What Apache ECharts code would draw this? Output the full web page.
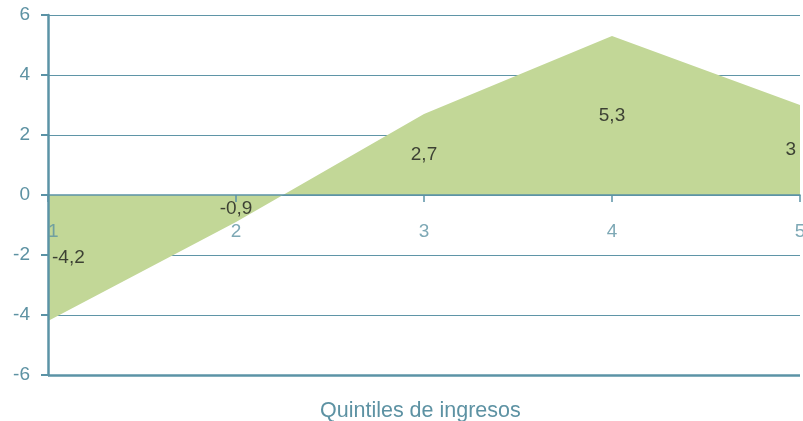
<!DOCTYPE html>
<html>
<head>
<meta charset="utf-8">
<script src="https://cdn.jsdelivr.net/npm/echarts@6/dist/echarts.min.js"></script>
<style>
  html, body { margin: 0; padding: 0; background: #fff; }
  #chart { width: 803px; height: 421px; }
</style>
</head>
<body>
<div id="chart"></div>
<script>
// data
var quintiles = ['1', '2', '3', '4', '5'];
var values = [-4.2, -0.9, 2.7, 5.3, 3];
var yMin = -6, yMax = 6, yStep = 2;
var xName = 'Quintiles de ingresos';

var axisColor = '#5b93a6';
var textColor = '#5d92a3';
var font = '"Liberation Sans", Arial, sans-serif';

// value labels sit half way between zero and the value (centre of the filled area)
var labelData = values.map(function (v, i) {
  var item = { value: [i, v / 2], raw: v };
  if (i === 0) item.label = { align: 'left', offset: [4, 0] };
  if (i === values.length - 1) item.label = { align: 'right', offset: [-4, 0] };
  return item;
});

// category labels hang under the zero line
var catData = quintiles.map(function (c, i) {
  var item = { value: [i, 0], name: c };
  if (i === 0) item.label = { align: 'left' };
  return item;
});

var myChart = echarts.init(document.getElementById('chart'));
myChart.setOption({
  animation: false,
  title: {
    text: xName,
    left: 320,
    top: 400,
    padding: 0,
    textStyle: { color: textColor, fontSize: 21.5, fontWeight: 'normal', fontFamily: font }
  },
  grid: { left: 48, right: 3, top: 15, bottom: 46, outerBoundsMode: 'none', containLabel: false },
  xAxis: {
    type: 'category',
    data: quintiles,
    boundaryGap: false,
    z: 5,
    axisLine: { onZero: true, lineStyle: { color: axisColor, width: 1.5 } },
    axisTick: { show: true, length: 7, lineStyle: { color: axisColor, width: 1.5 } },
    axisLabel: { show: false },
    splitLine: { show: false }
  },
  yAxis: [{
    type: 'value',
    min: yMin, max: yMax, interval: yStep,
    axisLine: { show: false },
    axisTick: { show: false },
    axisLabel: { show: false },
    splitLine: { show: true, lineStyle: { color: '#5f95a7', width: 1 } }
  }, {
    type: 'value',
    min: yMin, max: yMax, interval: yStep,
    position: 'left',
    z: 5,
    axisLine: { show: true, onZero: false, lineStyle: { color: axisColor, width: 2.5 } },
    axisTick: { show: true, length: 7, lineStyle: { color: axisColor, width: 2 } },
    axisLabel: { margin: 18, color: textColor, fontSize: 19, fontFamily: font },
    splitLine: { show: false }
  }],
  series: [{
    type: 'line',
    data: values,
    symbol: 'none',
    lineStyle: { width: 0 },
    areaStyle: { color: '#c2d797', opacity: 1, origin: 0 },
    z: 2,
    markLine: {
      silent: true,
      symbol: 'none',
      label: { show: false },
      lineStyle: { color: axisColor, width: 2.5, type: 'solid' },
      data: [{ yAxis: yMin }]
    }
  }, {
    type: 'scatter',
    data: labelData,
    symbolSize: 0,
    z: 6,
    label: {
      show: true,
      position: 'inside',
      color: '#1a1a1a',
      fontSize: 19,
      fontFamily: font,
      formatter: function (p) { return String(p.data.raw).replace('.', ','); }
    }
  }, {
    type: 'scatter',
    data: catData,
    symbolSize: 0,
    z: 6,
    label: {
      show: true,
      position: 'bottom',
      distance: 27,
      color: textColor,
      fontSize: 19,
      fontFamily: font,
      formatter: '{b}'
    }
  }]
});
</script>
</body>
</html>
